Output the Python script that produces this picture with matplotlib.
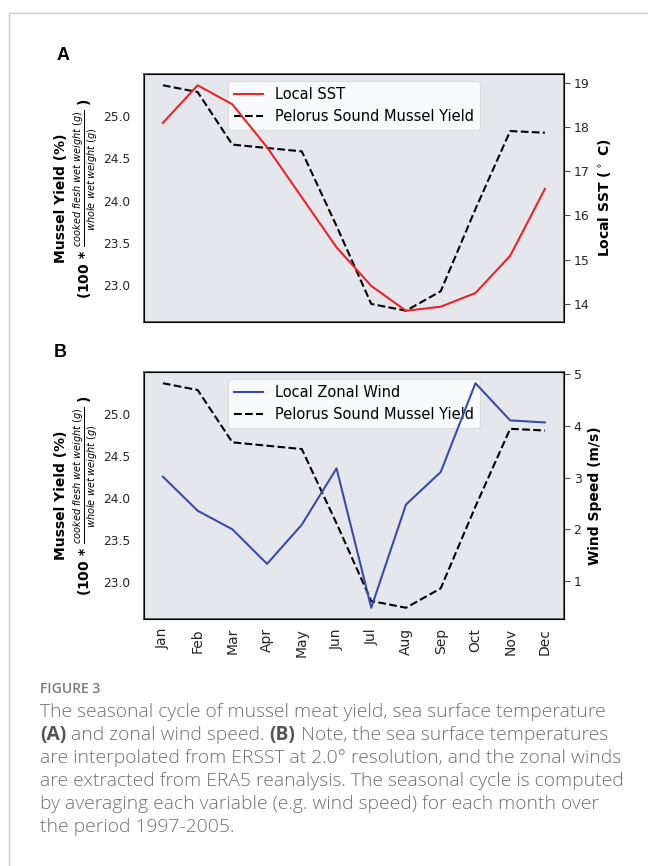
import numpy as np
import matplotlib
matplotlib.use('Agg')
import matplotlib.pyplot as plt
from matplotlib.lines import Line2D

# Monthly seasonal cycle (1997-2005 averages)
months = ['Jan', 'Feb', 'Mar', 'Apr', 'May', 'Jun',
          'Jul', 'Aug', 'Sep', 'Oct', 'Nov', 'Dec']
mussel_yield = [25.36, 25.28, 24.66, 24.62, 24.58, 23.70,
                22.78, 22.70, 22.93, 23.90, 24.82, 24.80]
local_sst = [18.09, 18.94, 18.51, 17.54, 16.41, 15.28,
             14.41, 13.85, 13.94, 14.25, 15.09, 16.60]
zonal_wind = [3.02, 2.36, 2.00, 1.33, 2.09, 3.18,
              0.48, 2.48, 3.11, 4.83, 4.11, 4.07]

yield_label = ('Mussel Yield (%)\n(100 * '
               r'$\frac{\mathit{cooked\ flesh\ wet\ weight\ (g)}}'
               r'{\mathit{whole\ wet\ weight\ (g)}}$ )')

caption_lines = [
    [('The seasonal cycle of mussel meat yield, sea surface temperature', False)],
    [('(A)', True), (' and zonal wind speed. ', False), ('(B)', True),
     (' Note, the sea surface temperatures', False)],
    [('are interpolated from ERSST at 2.0\u00b0 resolution, and the zonal winds', False)],
    [('are extracted from ERA5 reanalysis. The seasonal cycle is computed', False)],
    [('by averaging each variable (e.g. wind speed) for each month over', False)],
    [('the period 1997-2005.', False)],
]

W, H = 648, 866
BG = '#e5e7ed'
SPINE = '#4d4d4d'
TEXT = '#262626'


def fx(px):
    return px / W


def fy(py):
    return 1 - py / H


def style_axes(ax, twin):
    ax.set_facecolor(BG)
    for s in ax.spines.values():
        s.set_color(SPINE)
        s.set_linewidth(1.2)
    ax.tick_params(axis='y', which='both', length=0, pad=9.5,
                   labelsize=8.8, labelcolor=TEXT)
    ax.tick_params(axis='x', length=0, pad=6.5, labelsize=10,
                   labelcolor=TEXT, labelrotation=90)
    twin.tick_params(axis='y', length=4.4, width=0.8, color=SPINE, pad=2.5,
                     labelsize=9, labelcolor=TEXT)
    ax.set_ylabel(yield_label, fontsize=10, fontweight='bold',
                  color='black', labelpad=2.5)


def panel(ax, values, color, label, right_label):
    ax.plot(months, mussel_yield, color='black', linestyle='--',
            linewidth=1.5, label='Pelorus Sound Mussel Yield')
    twin = ax.twinx()
    twin.plot(months, values, color=color, linewidth=1.5, label=label)
    style_axes(ax, twin)
    twin.set_ylabel(right_label, fontsize=10, fontweight='bold',
                    color='black', labelpad=4.5)
    handles = twin.get_lines() + ax.get_lines()
    leg = ax.legend(handles, [h.get_label() for h in handles],
                    loc='upper center', fontsize=10.5, framealpha=0.8,
                    facecolor='white', edgecolor='#d9d9d9', fancybox=True)
    leg.get_frame().set_linewidth(0.8)
    return twin


fig = plt.figure(figsize=(W / 100, H / 100), dpi=100)
fig.patch.set_facecolor('white')

# page frame
fig.add_artist(Line2D([fx(9), fx(9), fx(W)], [fy(H), fy(13), fy(13)],
                      color='#cfcfcf', linewidth=1.0))

axA = fig.add_axes([fx(143.8), fy(322), fx(420.2), 248 / H])
axB = fig.add_axes([fx(143.8), fy(619), fx(420.2), 247 / H], sharex=axA)

panel(axA, local_sst, '#e8262a', 'Local SST', 'Local SST ($^\\circ$ C)')
panel(axB, zonal_wind, '#3b4ca5', 'Local Zonal Wind', 'Wind Speed (m/s)')
axA.tick_params(axis='x', labelbottom=False)

fig.text(fx(57), fy(60), 'A', fontsize=13, fontweight='bold',
         family='Liberation Sans', va='baseline')
fig.text(fx(54), fy(357), 'B', fontsize=13, fontweight='bold',
         family='Liberation Sans', va='baseline')

# caption below the panels
fig.text(fx(40), fy(693), 'FIGURE 3', fontsize=10, family='Open Sans',
         color='#7a7a7a', va='baseline', fontweight='semibold')

renderer = fig.canvas.get_renderer()
y0 = 717
for i, line in enumerate(caption_lines):
    x = 40
    for txt, bold in line:
        t = fig.text(fx(x), fy(y0 + 23 * i), txt, fontsize=13.9, family='Open Sans',
                     color='#555555' if bold else '#707070',
                     fontweight='bold' if bold else 'light', va='baseline')
        x += t.get_window_extent(renderer).width

fig.savefig('out.png', dpi=100)
